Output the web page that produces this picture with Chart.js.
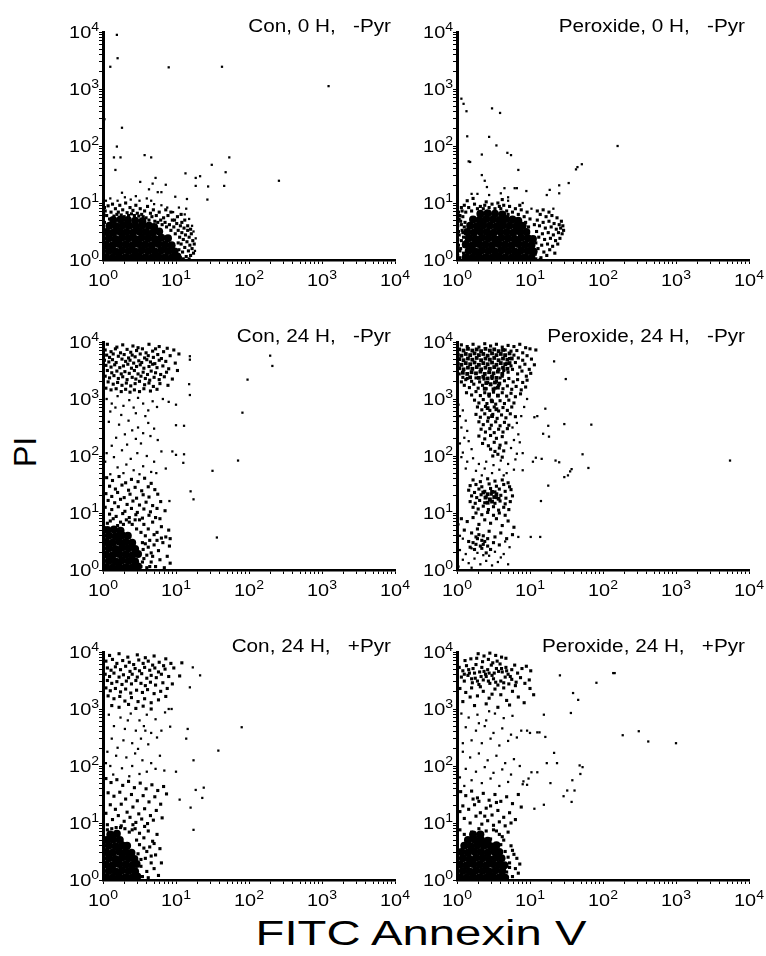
<!DOCTYPE html>
<html>
<head>
<meta charset="utf-8">
<title>Annexin V / PI flow cytometry</title>
<script src="https://cdn.jsdelivr.net/npm/chart.js@4.4.1/dist/chart.umd.min.js"></script>
<style>
  html, body { margin: 0; padding: 0; background: #fff; }
  #figure { position: relative; width: 766px; height: 956px; overflow: hidden; background: #fff;
            font-family: "Liberation Sans", Arial, Helvetica, sans-serif; color: #000; }
  #figure canvas { position: absolute; }
  .axis-title { position: absolute; white-space: nowrap; line-height: 1; }
  #yTitle { left: 25px; top: 452px; font-size: 32px; transform: translate(-50%, -50%) rotate(-90deg); }
  #xTitle { left: 421px; top: 915px; font-size: 35px; transform: translateX(-50%) scaleX(1.35); }
</style>
</head>
<body>
<div id="figure">
  <div class="axis-title" id="yTitle">PI</div>
  <div class="axis-title" id="xTitle">FITC Annexin V</div>
</div>
<script>
// Log axes: four decades of fluorescence on both axes
const decadeTicks = [1, 10, 100, 1000, 10000];
const decadeExponents = ['0', '1', '2', '3', '4'];
const minorSteps = [1, 2, 3, 4, 5, 6, 7, 8, 9];

const panelTitles = [
  'Con, 0 H,   -Pyr', 'Peroxide, 0 H,   -Pyr',
  'Con, 24 H,   -Pyr', 'Peroxide, 24 H,   -Pyr',
  'Con, 24 H,   +Pyr', 'Peroxide, 24 H,   +Pyr'
];

// Events as (log10 FITC Annexin V, log10 PI) pairs, in hundredths of a decade.
// Core: the packed centres of the populations; Dense: closely packed cells; Sparse: scattered cells.

// ---------- Con, 0 H, -Pyr ----------
const con0hCore = [
  4,5, 13,4, 22,6, 31,5, 40,4, 49,6, 58,5, 67,4, 76,6, 85,5, 94,4, 102,6,
  8,16, 17,15, 26,17, 35,16, 44,15, 53,17, 62,16, 71,15, 80,17, 89,16, 98,15,
  4,27, 13,26, 22,28, 31,27, 40,26, 49,28, 58,27, 67,26, 76,28, 85,27, 94,26,
  8,38, 17,37, 26,39, 35,38, 44,37, 53,39, 62,38, 71,37, 80,39, 89,38,
  5,49, 14,48, 23,50, 32,49, 41,48, 50,50, 59,49, 68,48, 77,50,
  9,60, 18,59, 27,61, 36,60, 45,59, 54,61, 63,60, 70,58,
  14,70, 24,71, 34,70, 44,69, 54,68
];
const con0hDense = [
  0,74, 3,86, 5,78, 7,95, 9,72, 11,84, 13,98, 15,77, 17,90, 19,80, 21,84, 23,96, 25,79,
  27,88, 29,76, 31,100, 33,83, 35,78, 37,92, 39,81, 41,87, 43,78, 45,96, 47,82, 49,77,
  51,90, 53,80, 55,76, 57,86, 59,74, 61,94, 63,70, 65,82, 67,76, 69,88, 71,68, 73,78,
  75,66, 77,84, 79,70, 81,62, 83,74, 85,66, 87,58, 89,78, 91,62, 93,52, 95,70, 97,58,
  99,46, 101,64, 103,52,
  1,10, 2,22, 1,34, 2,46, 1,58, 2,66, 1,80, 2,92,
  105,40, 106,60, 107,28, 108,48, 109,14, 110,36, 111,56, 112,22, 113,44, 114,6, 115,32,
  116,52, 117,16, 118,40, 119,26, 120,8, 121,46, 122,20, 123,34, 124,12, 125,28, 104,18,
  106,4, 110,2, 118,2, 103,30, 108,66, 112,70, 116,60, 120,54, 98,70, 102,76, 107,80,
  93,84, 86,88
];
const con0hSparse = [
  10,108, 30,110, 50,104, 70,98, 88,92, 45,112, 60,108, 20,104, 80,96, 96,84, 4,104,
  38,106, 26,118, 66,104, 112,80, 118,72, 124,50, 127,38, 126,16, 122,60, 114,90, 104,92,
  19,395, 20,354, 10,339, 90,338, 163,339, 309,305, 2,247, 26,232, 19,199, 15,180,
  24,180, 17,158, 57,184, 66,180, 173,180, 149,167, 168,154, 113,152, 133,147, 127,144,
  166,130, 127,130, 144,129, 143,106, 241,139, 51,137, 68,134, 72,144, 86,132, 63,124,
  75,119, 80,119, 99,111, 115,107
];

// ---------- Peroxide, 0 H, -Pyr ----------
const perox0hCore = [
  12,5, 21,4, 30,6, 39,5, 48,4, 57,6, 66,5, 75,4, 84,6, 93,5, 102,4,
  16,16, 25,15, 34,17, 43,16, 52,15, 61,17, 70,16, 79,15, 88,17, 97,16, 105,15,
  12,27, 21,26, 30,28, 39,27, 48,26, 57,28, 66,27, 75,26, 84,28, 93,27, 102,26,
  16,38, 25,37, 34,39, 43,38, 52,37, 61,39, 70,38, 79,37, 88,39, 97,38, 104,37,
  14,49, 23,48, 32,50, 41,49, 50,48, 59,50, 68,49, 77,48, 86,50, 95,49,
  18,60, 27,59, 36,61, 45,60, 54,59, 63,61, 72,60, 81,59, 90,60,
  22,71, 31,70, 40,72, 49,71, 58,70, 67,72, 76,71, 84,69,
  32,81, 42,82, 52,81, 62,80
];
const perox0hDense = [
  1,8, 4,16, 2,26, 6,34, 3,44, 7,52, 1,60, 5,68, 8,76, 2,84, 6,92, 9,12, 10,24, 4,4,
  9,40, 10,58, 3,72, 7,86, 1,36, 5,20, 11,66, 8,48, 2,50, 11,6, 12,32, 6,62, 4,78,
  12,84, 16,92, 20,86, 24,98, 28,90, 32,94, 36,90, 40,102, 44,92, 48,98, 52,90, 56,100,
  60,90, 64,96, 68,86, 72,94, 76,84, 80,90, 84,80, 88,88, 92,76, 96,84, 100,72, 14,104,
  38,96, 62,106, 86,96, 10,96, 22,108, 58,94, 70,80, 94,66, 98,58,
  107,10, 108,30, 109,50, 110,70, 111,20, 112,40, 113,60, 114,80, 115,4, 116,26, 117,46,
  118,66, 119,14, 120,36, 121,56, 122,76, 123,8, 124,28, 125,48, 126,68, 127,18, 128,38,
  129,58, 130,78, 131,24, 132,44, 133,64, 134,12, 135,34, 136,54, 137,74, 138,28, 139,48,
  140,62, 141,38, 142,56, 143,68, 144,46, 145,60, 146,52, 110,86, 118,88, 126,84, 106,62,
  108,2, 114,1
];
const perox0hSparse = [
  20,116, 44,114, 70,104, 90,100, 102,90, 132,90,
  6,283, 9,274, 13,261, 48,266, 59,258, 14,217, 44,216, 54,201, 34,185, 16,173, 18,172,
  69,188, 74,184, 84,158, 220,200, 163,159, 165,163, 171,168, 153,135, 140,131, 127,123,
  123,114, 140,117, 34,149, 38,139, 28,116, 41,128, 65,126, 79,126, 82,126, 95,121,
  60,117, 70,110
];

// ---------- Con, 24 H, -Pyr ----------
const con24hCore = [
  4,5, 13,4, 22,6, 31,5, 40,4, 48,6,
  8,16, 17,15, 26,17, 35,16, 44,15,
  4,27, 13,26, 22,28, 31,27, 40,26, 48,28,
  8,38, 17,37, 26,39, 35,38, 44,37,
  4,49, 13,48, 22,50, 31,49, 40,48,
  8,60, 17,59, 26,61, 34,60,
  6,70, 15,71, 24,69
];
const con24hDense = [
  6,396, 19,391, 27,395, 41,393, 48,390, 63,396, 77,392, 88,389,
  3,386, 11,383, 17,388, 24,381, 33,387, 38,382, 46,385, 54,388, 59,381, 68,384, 72,388,
  83,383, 97,386,
  5,377, 9,373, 14,379, 21,375, 29,378, 35,372, 40,377, 44,374, 51,379, 57,372, 62,376,
  69,373, 75,378, 80,371, 92,376, 104,379,
  2,368, 8,365, 13,369, 18,364, 26,370, 31,366, 37,368, 42,363, 49,367, 53,364, 60,369,
  65,365, 71,362, 77,368, 86,366, 99,363,
  4,359, 11,356, 16,360, 23,355, 28,358, 34,361, 39,354, 46,357, 51,360, 56,354, 63,357,
  68,361, 74,355, 82,358, 90,353,
  6,350, 12,346, 19,349, 25,344, 30,348, 36,345, 43,350, 48,344, 55,347, 61,343, 66,349,
  72,346, 79,343, 87,347, 102,350,
  3,340, 9,337, 15,341, 21,336, 27,339, 33,334, 40,338, 45,335, 52,340, 58,336, 64,333,
  70,338, 77,334, 84,339, 95,335,
  7,330, 14,326, 20,329, 26,324, 32,328, 38,323, 44,327, 50,331, 57,325, 63,328, 69,322,
  78,327, 89,324,
  4,319, 11,316, 18,318, 25,313, 31,317, 37,312, 43,316, 50,313, 56,318, 65,314, 74,317,
  5,162, 13,157, 22,164, 31,153, 39,159, 48,155, 57,161, 66,152,
  9,147, 17,142, 26,149, 35,140, 44,145, 53,139, 62,146, 71,141,
  4,134, 12,129, 20,136, 29,127, 37,133, 46,126, 55,132, 63,128, 75,133,
  7,122, 16,118, 24,124, 33,115, 41,121, 50,114, 59,119, 68,113, 79,120,
  3,110, 12,106, 21,111, 30,103, 39,108, 47,101, 56,107, 65,102, 74,108, 85,104,
  9,98, 18,94, 27,99, 36,92, 45,97, 54,91, 63,96, 72,92,
  50,88, 56,80, 62,72, 68,84, 74,66, 80,76, 86,58, 90,70, 58,60, 64,52, 70,44, 76,34,
  82,48, 88,24, 92,55, 60,26, 66,14, 72,6, 78,18, 84,4, 55,36, 60,4, 66,30, 74,52, 40,80,
  32,88, 24,84, 14,90, 6,82, 2,74, 46,72, 52,66, 92,12, 91,42, 54,48, 56,20, 62,40, 70,62,
  78,90, 10,86, 36,84, 44,88, 20,78, 28,80, 52,6, 54,14, 58,46, 64,6, 68,24, 80,56
];
const con24hSparse = [
  5,300, 12,292, 20,305, 28,288, 36,298, 42,285, 48,302, 55,292, 62,280, 68,296, 74,286,
  82,300, 10,278, 25,272, 45,275, 58,270, 90,295, 100,290, 17,285,
  8,260, 22,255, 35,262, 48,250, 55,240, 40,245, 30,238, 62,258, 70,248, 18,232, 45,230,
  52,222, 65,235, 12,218, 75,228, 33,220,
  5,205, 15,198, 26,210, 38,195, 47,205, 60,200, 70,190, 80,208, 32,185, 20,180, 42,175,
  55,182, 66,172, 10,168, 28,170, 50,168, 73,170, 86,178, 3,190,
  100,254, 111,253, 95,208, 100,202, 111,203, 110,188, 91,121,
  229,376, 232,358, 198,334, 191,276, 185,192, 150,174, 120,138, 124,124, 119,375,
  119,369, 118,326, 119,307, 156,57
];

// ---------- Peroxide, 24 H, -Pyr ----------
const perox24hCore = [
  3,387, 9,385, 15,388, 21,385, 27,387, 33,384, 39,388, 45,385, 51,387, 57,384, 63,386,
  1,378, 6,376, 12,379, 18,377, 24,380, 30,377, 36,379, 42,376, 48,380, 54,377, 60,379,
  66,377, 72,380,
  3,370, 9,368, 15,371, 21,369, 27,372, 33,368, 39,371, 45,369, 51,372, 57,368, 63,371,
  69,369, 75,371,
  1,362, 6,360, 12,363, 18,361, 24,364, 30,360, 36,363, 42,361, 48,364, 54,360, 60,363,
  66,361, 72,363,
  3,354, 9,352, 15,355, 21,353, 27,356, 33,352, 39,355, 45,353, 51,356, 57,352, 63,355, 69,353,
  8,346, 14,344, 20,347, 26,345, 32,348, 38,344, 44,347, 50,345, 56,348, 62,344,
  18,338, 30,337, 36,339, 42,336, 48,339, 54,337,
  40,328, 46,326, 52,329, 58,327, 38,318, 50,317, 56,320, 44,308, 56,306, 48,296, 42,284,
  54,282, 48,270,
  36,136, 42,133, 48,137, 54,133, 39,127, 45,124, 51,128, 57,125, 42,118, 48,120
];
const perox24hDense = [
  6,395, 14,392, 22,396, 30,391, 38,397, 46,393, 54,396, 62,391, 70,394, 78,392, 86,396,
  94,390, 66,386, 74,384, 82,385, 90,381, 100,388, 108,386,
  66,376, 72,371, 78,377, 84,372, 90,368, 96,376, 102,370, 68,362, 74,358, 80,364, 86,356,
  93,361, 99,352, 106,360, 64,350, 70,347, 76,352, 83,344, 89,349, 95,340, 101,345, 62,340,
  3,344, 8,338, 6,330, 12,334,
  14,336, 20,331, 26,337, 31,330, 37,335, 42,329, 48,336, 54,331, 59,337, 65,332, 71,336,
  77,330, 83,334, 90,329, 96,333,
  10,324, 17,320, 23,326, 29,319, 35,324, 40,318, 46,325, 52,319, 57,324, 63,318, 69,323,
  75,317, 81,322, 88,316, 94,321,
  13,311, 20,307, 26,313, 32,306, 38,311, 44,305, 50,312, 56,306, 62,311, 68,305, 74,310,
  80,304, 87,309,
  24,298, 30,293, 36,299, 41,292, 47,298, 53,291, 59,297, 65,292, 71,298, 78,293,
  28,286, 34,281, 39,287, 45,280, 51,286, 57,279, 63,285, 69,280, 75,286,
  26,273, 32,268, 38,274, 43,267, 49,273, 55,266, 61,272, 67,267, 73,274, 80,269,
  30,260, 36,255, 42,261, 47,254, 53,260, 59,253, 65,259, 71,254,
  33,247, 39,242, 45,248, 51,241, 57,247, 63,242, 69,248,
  30,235, 38,230, 46,236, 54,231, 62,234, 35,222, 43,218, 51,224, 59,219, 67,223,
  46,212, 52,208, 58,214, 64,209, 49,200, 56,203, 62,198,
  22,158, 32,155, 42,160, 52,156, 62,158, 70,153,
  18,148, 26,150, 34,146, 44,151, 54,147, 64,150, 72,146,
  16,140, 24,136, 30,142, 38,138, 46,143, 52,137, 58,142, 66,138, 74,141,
  20,130, 27,127, 33,132, 40,128, 47,133, 54,127, 60,131, 67,126, 76,130,
  18,120, 25,117, 31,122, 38,118, 45,123, 52,117, 59,121, 66,116, 73,120,
  22,110, 29,107, 36,112, 43,106, 50,111, 57,105, 64,110, 71,106,
  26,100, 34,97, 42,101, 50,96, 58,100, 66,96,
  6,90, 14,85, 22,92, 30,80, 38,88, 46,82, 54,90, 62,78, 70,86, 10,70, 20,65, 28,72, 36,60,
  44,68, 52,58, 60,65, 68,55, 16,50, 26,45, 34,52, 42,42, 50,48, 58,44, 22,48, 28,55, 32,42,
  38,50, 24,36, 30,62, 36,45, 42,55, 26,58, 34,38, 18,40, 46,36, 40,30, 78,75, 76,62
];
const perox24hSparse = [
  2,290, 8,280, 4,270, 12,262, 6,250, 14,244, 10,232, 4,222, 16,226, 20,212, 8,206, 76,250,
  82,258, 88,270, 92,286, 96,300, 84,238, 78,228, 74,214, 82,204, 86,224, 90,205,
  6,198, 14,190, 22,196, 30,186, 40,190, 50,184, 60,192, 70,186, 80,194, 12,178, 26,174,
  38,178, 48,170, 58,176, 68,170, 78,176, 34,166, 64,166, 90,175,
  84,58, 4,35, 12,28, 20,38, 28,30, 36,26, 44,25, 52,32, 60,22, 8,18, 16,12,
  24,20, 32,10, 40,16, 48,8, 56,14, 64,28, 2,6, 20,4, 70,10, 66,50, 72,40, 4,60, 8,55, 2,80,
  133,366, 149,335, 121,283, 147,256, 184,255, 125,253, 118,239, 126,234, 106,268, 110,270,
  172,203, 180,179, 135,192, 140,189, 147,163, 152,166, 155,173, 157,177, 125,148, 115,121,
  114,58, 101,58, 374,192, 104,190, 108,197, 116,195
];

// ---------- Con, 24 H, +Pyr ----------
const con24hPyrCore = [
  4,5, 13,4, 22,6, 31,5, 40,4, 47,6,
  8,16, 17,15, 26,17, 35,16, 44,15,
  4,27, 13,26, 22,28, 31,27, 40,26, 46,28,
  8,38, 17,37, 26,39, 35,38, 43,37,
  4,49, 13,48, 22,50, 31,49, 39,48,
  8,60, 17,59, 26,61, 33,60,
  5,70, 14,71, 23,70, 10,80, 19,81
];
const con24hPyrDense = [
  9,394, 22,397, 34,391, 47,395, 58,390, 70,393, 86,388,
  4,384, 13,387, 19,380, 27,385, 36,382, 42,378, 49,386, 55,380, 62,384, 68,377, 77,382,
  83,376, 93,380, 108,381,
  6,372, 11,368, 17,374, 24,369, 31,375, 37,366, 44,371, 50,367, 57,373, 64,368, 71,372,
  76,365, 85,370, 97,372,
  3,361, 9,357, 15,363, 22,356, 28,360, 35,355, 40,361, 47,356, 53,362, 60,354, 66,359,
  73,355, 80,361, 90,357, 105,358,
  6,350, 12,345, 19,348, 26,343, 32,349, 39,344, 45,350, 52,345, 58,341, 65,347, 72,342,
  82,346, 95,344,
  4,337, 10,332, 17,336, 24,330, 31,335, 38,328, 46,333, 54,329, 61,334, 70,327, 79,331, 88,336,
  7,323, 15,318, 23,322, 30,314, 39,320, 48,313, 57,318, 66,311, 76,316, 86,322,
  12,306, 22,303, 35,308, 45,301, 55,305, 66,300,
  4,178, 11,171, 19,176, 27,166, 35,173, 43,162, 51,170, 59,160, 67,167, 75,157, 83,164,
  7,153, 15,147, 23,154, 31,142, 39,150, 47,139, 55,148, 63,137, 71,146, 79,133, 87,151,
  10,132, 17,124, 25,133, 33,119, 41,128, 49,116, 57,125, 65,113, 73,122, 81,109, 4,117,
  13,106, 21,113, 29,103, 37,110, 45,101, 53,107, 61,99, 69,105, 6,97, 25,95, 41,97, 57,94,
  44,90, 50,82, 56,74, 62,86, 68,68, 74,80, 78,55, 72,44, 66,30, 60,15, 54,6, 60,50, 50,62,
  70,20, 76,8, 46,70, 58,38, 64,58, 30,90, 18,92, 6,88, 36,84, 80,30, 52,24, 56,56, 62,4,
  66,42, 48,46, 52,36, 70,64, 40,88, 24,92, 12,90
];
const con24hPyrSparse = [
  8,290, 24,285, 38,292, 50,280, 60,290, 72,282, 85,294, 15,270, 30,265, 45,262, 56,270,
  66,258, 80,262, 12,248, 28,245, 40,240, 52,248, 62,238, 74,250, 20,232, 48,230, 58,262,
  34,280, 90,300,
  6,225, 18,218, 32,215, 44,222, 54,210, 66,205, 78,218, 10,200, 26,196, 40,200, 60,190,
  72,195, 14,185, 36,182, 50,186, 84,192, 4,205,
  123,373, 133,359, 119,338, 190,268, 158,227, 116,265, 114,248, 124,210, 100,190, 127,158,
  138,162, 136,144, 105,141, 120,127, 124,88, 94,300, 92,269
];

// ---------- Peroxide, 24 H, +Pyr ----------
const perox24hPyrCore = [
  4,5, 13,4, 22,6, 31,5, 40,4, 49,6, 58,5, 66,4,
  8,16, 17,15, 26,17, 35,16, 44,15, 53,17, 62,16,
  4,27, 13,26, 22,28, 31,27, 40,26, 49,28, 58,27, 65,26,
  8,38, 17,37, 26,39, 35,38, 44,37, 53,39, 61,38,
  6,49, 15,48, 24,50, 33,49, 42,48, 51,50, 58,49,
  10,60, 19,59, 28,61, 37,60, 46,59, 54,61,
  15,70, 24,71, 33,70, 42,69, 22,80, 32,80
];
const perox24hPyrDense = [
  29,397, 37,393, 45,398, 53,394, 61,391, 19,388, 11,385, 27,389, 43,387, 55,384, 67,389,
  35,383, 49,381,
  3,373, 8,367, 13,376, 17,363, 22,371, 26,378, 31,365, 34,373, 39,361, 42,369, 47,377,
  51,363, 54,371, 59,379, 62,365, 67,373, 70,361, 75,369, 79,377, 83,363, 89,371, 95,375,
  101,367,
  6,356, 10,349, 15,359, 21,346, 25,354, 30,343, 36,351, 40,357, 45,345, 50,353, 56,342,
  60,349, 66,356, 71,344, 75,352, 81,347, 87,355, 93,345, 99,351,
  24,363, 33,357, 48,359, 57,366, 64,346, 37,366, 28,349, 16,369, 44,363, 61,371, 73,357,
  10,361, 20,353, 43,349, 53,347, 68,367,
  4,336, 12,329, 20,337, 28,323, 36,331, 44,319, 52,335, 60,325, 68,315, 76,331, 84,321,
  92,311, 8,313, 24,306, 40,309, 56,303, 72,307, 18,321, 48,326, 100,336, 105,325, 32,339,
  64,337, 80,341,
  5,155, 12,148, 20,156, 28,144, 36,152, 44,140, 52,150, 60,138, 68,146, 76,134, 84,150,
  8,130, 16,124, 24,132, 32,118, 40,126, 48,114, 56,122, 64,110, 72,118, 80,106, 10,108,
  18,100, 26,112, 34,98, 42,104, 50,96, 58,102, 66,95, 74,100, 4,120, 88,128, 30,138,
  46,130, 22,142, 54,136, 38,112,
  50,88, 58,80, 64,70, 70,84, 74,60, 78,45, 72,30, 68,14, 76,6, 80,20, 66,50, 60,62, 40,86,
  30,90, 20,84, 10,80, 4,88, 46,72, 84,12, 82,38, 70,40, 72,22, 62,76, 54,86, 76,52, 86,28
];
const perox24hPyrSparse = [
  6,292, 16,285, 28,290, 40,280, 52,292, 64,284, 76,288, 12,268, 26,262, 38,270, 50,258,
  62,266, 74,255, 88,262, 20,245, 34,240, 46,248, 58,236, 70,244, 82,250, 8,240, 96,262,
  100,258, 30,275, 44,296,
  8,225, 18,215, 30,222, 42,210, 54,218, 66,205, 78,212, 12,195, 26,190, 38,198, 50,188,
  62,194, 74,185, 86,200, 20,175, 34,170, 46,178, 58,165, 70,172, 4,180, 10,165, 90,168,
  98,178, 102,189,
  141,359, 191,346, 214,363, 216,363, 159,328, 166,316, 156,293, 119,290, 110,259, 113,259,
  121,251, 227,254, 249,261, 262,243, 300,240, 133,223, 137,205, 123,205, 168,201, 172,198,
  169,186, 158,175, 161,157, 128,170, 146,147, 151,157, 157,137, 119,132, 106,125, 110,189,
  91,173, 96,167
];

const panelData = [
  [con0hCore, con0hDense, con0hSparse],
  [perox0hCore, perox0hDense, perox0hSparse],
  [con24hCore, con24hDense, con24hSparse],
  [perox24hCore, perox24hDense, perox24hSparse],
  [con24hPyrCore, con24hPyrDense, con24hPyrSparse],
  [perox24hPyrCore, perox24hPyrDense, perox24hPyrSparse]
];

// ---- layout and styling (pixels) ----
const PLOT_W = 292, PLOT_H = 228;
const PAD_L = 70, PAD_T = 30, PAD_R = 30, PAD_B = 40;
const colLeft = [103, 457];
const rowTop = [32, 342, 652];
// core marker per panel: [pointStyle, radius]
const coreMarker = [['circle', 4], ['circle', 4], ['circle', 4], ['rect', 2.7], ['circle', 4], ['circle', 4]];

// The lettering is set slightly wide
const TICK_FONT = '17px "Liberation Sans", Arial, sans-serif';
const EXP_FONT = '12px "Liberation Sans", Arial, sans-serif';
const TICK_STRETCH = 1.17;
const TITLE_FONT = '18px "Liberation Sans", Arial, sans-serif';
const TITLE_STRETCH = 1.15;

const tickValues = decadeTicks.slice(0, -1)
  .flatMap(d => minorSteps.map(m => m * d))
  .concat(decadeTicks.slice(-1));

function toPoints(flat) {
  const pts = [];
  for (let i = 0; i < flat.length; i += 2) {
    pts.push({ x: Math.pow(10, flat[i] / 100), y: Math.pow(10, flat[i + 1] / 100) });
  }
  return pts;
}

// "10" with a raised exponent
function drawPower(ctx, x, baseline, exp, align) {
  ctx.font = TICK_FONT;
  const w1 = ctx.measureText('10').width;
  ctx.font = EXP_FONT;
  const w2 = ctx.measureText(exp).width;
  const total = (w1 + w2) * TICK_STRETCH;
  const start = align === 'center' ? x - total / 2 : x - total;
  ctx.save();
  ctx.translate(start, baseline);
  ctx.scale(TICK_STRETCH, 1);
  ctx.textAlign = 'left';
  ctx.font = TICK_FONT;
  ctx.fillText('10', 0, 0);
  ctx.font = EXP_FONT;
  ctx.fillText(exp, w1, -7.5);
  ctx.restore();
}

const panelDecor = {
  id: 'panelDecor',
  afterDraw(chart, args, opts) {
    const { ctx, chartArea, scales } = chart;
    ctx.save();
    ctx.fillStyle = '#000';
    ctx.textBaseline = 'alphabetic';
    decadeTicks.forEach((v, i) => {
      drawPower(ctx, scales.x.getPixelForValue(v), chartArea.bottom + 26, decadeExponents[i], 'center');
      drawPower(ctx, chartArea.left - 4, scales.y.getPixelForValue(v) + 6, decadeExponents[i], 'right');
    });
    ctx.translate(chartArea.right - 4, chartArea.top);
    ctx.scale(TITLE_STRETCH, 1);
    ctx.font = TITLE_FONT;
    ctx.textAlign = 'right';
    ctx.fillText(opts.text, 0, 0);
    ctx.restore();
  }
};

function logAxis(fit, borderWidth) {
  return {
    type: 'logarithmic',
    min: 1,
    max: 10000,
    afterBuildTicks(scale) { scale.ticks = tickValues.map(v => ({ value: v })); },
    afterFit: fit,
    ticks: { display: false },
    grid: { display: true, drawOnChartArea: false, drawTicks: true, tickLength: 4, color: '#000', lineWidth: 1 },
    border: { display: true, color: '#000', width: borderWidth }
  };
}

function eventSet(flat, style, radius) {
  return { data: toPoints(flat), pointStyle: style, pointRadius: radius, pointHoverRadius: radius,
           backgroundColor: '#000', borderWidth: 0, clip: 1 };
}

const figure = document.getElementById('figure');
panelData.forEach(([core, dense, sparse], idx) => {
  const col = idx % 2, row = Math.floor(idx / 2);
  const canvas = document.createElement('canvas');
  const cw = PLOT_W + PAD_L + PAD_R, ch = PLOT_H + PAD_T + PAD_B;
  canvas.width = cw; canvas.height = ch;
  canvas.style.width = cw + 'px'; canvas.style.height = ch + 'px';
  canvas.style.left = (colLeft[col] - PAD_L) + 'px';
  canvas.style.top = (rowTop[row] - PAD_T) + 'px';
  figure.appendChild(canvas);

  const [coreStyle, coreRadius] = coreMarker[idx];
  new Chart(canvas, {
    type: 'scatter',
    data: {
      datasets: [
        eventSet(sparse, 'rect', 1.6),
        eventSet(dense, 'rect', 2.2),
        eventSet(core, coreStyle, coreRadius)
      ]
    },
    options: {
      responsive: false,
      animation: false,
      events: [],
      layout: { padding: { left: 0, top: PAD_T, right: PAD_R, bottom: 0 } },
      scales: {
        x: logAxis(s => { s.height = PAD_B; }, 2.5),
        y: logAxis(s => { s.width = PAD_L; }, 3)
      },
      plugins: {
        legend: { display: false },
        tooltip: { enabled: false },
        panelDecor: { text: panelTitles[idx] }
      }
    },
    plugins: [panelDecor]
  });
});
</script>
</body>
</html>
